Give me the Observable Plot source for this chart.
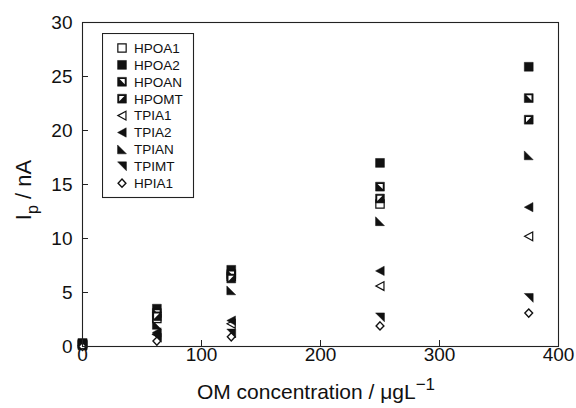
<!DOCTYPE html>
<html><head><meta charset="utf-8">
<script src="https://cdn.jsdelivr.net/npm/d3@7"></script>
<script src="https://cdn.jsdelivr.net/npm/@observablehq/plot@0.6"></script>
<style>
body{margin:0;background:#fff}
#wrap{position:relative;width:576px;height:408px;font-family:"Liberation Sans",Arial,Helvetica,sans-serif}
#legend{position:absolute;left:102px;top:33px}
</style>
</head><body><div id="wrap"></div>
<script>
// ---- data ----
const concentrations = [0, 62.5, 125, 250, 375];
const seriesNames = ["HPOA1","HPOA2","HPOAN","HPOMT","TPIA1","TPIA2","TPIAN","TPIMT","HPIA1"];
const HPOA1 = [0.3, 2.6, 6.5, 13.2, null];
const HPOA2 = [0.3, 3.5, 7.1, 17.0, 25.9];
const HPOAN = [0.2, 3.1, 6.7, 14.8, 23.0];
const HPOMT = [0.2, 2.8, 6.3, 13.7, 21.0];
const TPIA1 = [0.1, 1.1, 2.1, 5.6, 10.2];
const TPIA2 = [0.1, 1.3, 2.4, 7.0, 12.9];
const TPIAN = [0.1, 2.0, 5.2, 11.6, 17.7];
const TPIMT = [0.1, 0.8, 1.2, 2.7, 4.5];
const HPIA1 = [0.0, 0.5, 0.9, 1.9, 3.1];
const seriesValues = [HPOA1, HPOA2, HPOAN, HPOMT, TPIA1, TPIA2, TPIAN, TPIMT, HPIA1];
const xTicks = [0, 100, 200, 300, 400];
const yTicks = [0, 5, 10, 15, 20, 25, 30];

// ---- symbols ----
const poly = pts => ({draw(ctx, size){const h=Math.sqrt(size)/2; ctx.moveTo(pts[0][0]*h,pts[0][1]*h); for(let i=1;i<pts.length;i++) ctx.lineTo(pts[i][0]*h,pts[i][1]*h); ctx.closePath();}});
const sym = {
  square: poly([[-1,-1],[1,-1],[1,1],[-1,1]]),
  innerUR: poly([[-0.55,-0.62],[0.62,-0.62],[0.62,0.55]]),
  innerUL: poly([[-0.62,-0.62],[0.55,-0.62],[-0.62,0.55]]),
  triLeft: poly([[-1,0],[0.95,-1.05],[0.95,1.05]]),
  rtBL: poly([[-1,-1],[-1,1],[1,1]]),
  rtTR: poly([[-1,-1],[1,-1],[1,1]]),
  diamond: poly([[0,-1.05],[1,0],[0,1.05],[-1,0]])
};
const ink = "#111";
const styles = {
  HPOA1: [{symbol: sym.square, fill: "white", stroke: ink, strokeWidth: 1.2, r: 4.7}],
  HPOA2: [{symbol: sym.square, fill: ink, stroke: ink, strokeWidth: 0.5}],
  HPOAN: [{symbol: sym.square, fill: ink, stroke: ink, strokeWidth: 0.5}, {symbol: sym.innerUR, fill: "white", stroke: "none"}],
  HPOMT: [{symbol: sym.square, fill: ink, stroke: ink, strokeWidth: 0.5}, {symbol: sym.innerUL, fill: "white", stroke: "none"}],
  TPIA1: [{symbol: sym.triLeft, fill: "white", stroke: ink, strokeWidth: 1.2, r: 4.7}],
  TPIA2: [{symbol: sym.triLeft, fill: ink, stroke: ink, strokeWidth: 0.5}],
  TPIAN: [{symbol: sym.rtBL, fill: ink, stroke: ink, strokeWidth: 0.5}],
  TPIMT: [{symbol: sym.rtTR, fill: ink, stroke: ink, strokeWidth: 0.5}],
  HPIA1: [{symbol: sym.diamond, fill: "white", stroke: ink, strokeWidth: 1.4, r: 4.4}]
};

const rows = [];
seriesNames.forEach((name, k) => seriesValues[k].forEach((v, i) => {
  if (v != null) rows.push({name, x: concentrations[i], y: v});
}));

const dotMarks = [];
seriesNames.forEach(name => {
  const data = rows.filter(d => d.name === name);
  styles[name].forEach(st => dotMarks.push(Plot.dot(data, {x: "x", y: "y", r: st.r ?? 5, symbol: st.symbol, fill: st.fill, stroke: st.stroke, strokeWidth: st.strokeWidth ?? 1})));
});

const font = '"Liberation Sans",Arial,Helvetica,sans-serif';
const plot = Plot.plot({
  width: 576, height: 408,
  marginLeft: 82, marginRight: 18, marginTop: 22, marginBottom: 62,
  style: {fontFamily: font, fontSize: "19px", color: ink, background: "white"},
  x: {domain: [0, 400]},
  y: {domain: [0, 30]},
  marks: [
    ...dotMarks,
    Plot.frame({stroke: "#222", strokeWidth: 1.1}),
    Plot.axisX(xTicks, {tickSize: -6, tickFormat: () => "", label: null, stroke: "#222"}),
    Plot.axisX(xTicks, {tickSize: 0, tickPadding: 1, label: null, fontSize: 19}),
    Plot.axisY(yTicks, {tickSize: -6, tickFormat: () => "", label: null, stroke: "#222"}),
    Plot.axisY(yTicks, {tickSize: 0, tickPadding: 10, label: null, fontSize: 19})
  ]
});

const svg = d3.select(plot);
// axis labels with sub/superscripts
const xl = svg.append("text").attr("x", 316).attr("y", 399).attr("text-anchor", "middle")
  .attr("font-family", font).attr("font-size", 21).attr("fill", ink);
xl.append("tspan").text("OM concentration / μgL");
xl.append("tspan").attr("dy", -9).attr("font-size", 17).text("−1");
const yl = svg.append("text").attr("transform", "translate(31,190) rotate(-90)").attr("text-anchor", "middle")
  .attr("font-family", font).attr("font-size", 22).attr("fill", ink);
yl.append("tspan").text("I");
yl.append("tspan").attr("dy", 7).attr("font-size", 16).text("p");
yl.append("tspan").attr("dy", -7).text(" / nA");

const wrap = document.getElementById("wrap");
wrap.appendChild(plot);

// legend (HTML-positioned SVG)
const lw = 91, lh = 164, rowH = 16.9;
const leg = d3.select(wrap).append("svg").attr("id", "legend").attr("width", lw + 2).attr("height", lh + 2);
leg.append("rect").attr("x", 0.5).attr("y", 0.5).attr("width", lw).attr("height", lh).attr("fill", "white").attr("stroke", "#222").attr("stroke-width", 1.1);
seriesNames.forEach((name, i) => {
  const cy = 15 + i * rowH;
  styles[name].forEach(st => {
    const r = st.r ?? 5;
    leg.append("path").attr("transform", `translate(20,${cy})`)
      .attr("d", d3.symbol(st.symbol, Math.PI * r * r)())
      .attr("fill", st.fill).attr("stroke", st.stroke).attr("stroke-width", st.strokeWidth ?? 1);
  });
  leg.append("text").attr("x", 32).attr("y", cy).attr("dy", "0.36em").attr("font-family", font).attr("font-size", 13.5).attr("fill", ink).text(name);
});
</script>
</body></html>
